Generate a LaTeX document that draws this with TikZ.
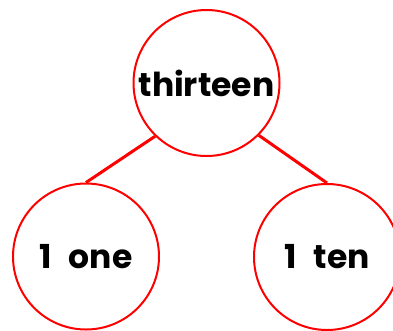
\documentclass[tikz,border=0pt]{standalone}
\usepackage{fontspec}
\setmainfont{Poppins}
\begin{document}
\begin{tikzpicture}[x=1pt,y=-1pt,
  circ/.style={circle,draw=red,line width=2pt,minimum size=146pt,inner sep=0pt,font=\fontsize{33}{38}\selectfont\bfseries},
  link/.style={draw=red,line width=3pt}]
\useasboundingbox (0,0) rectangle (393,330);
\node[circ] (top) at (206.5,83) {thirteen};
\node[circ] (one) at (86,256.5) {1\hspace{0.3em} one};
\node[circ] (ten) at (327,257) {1\hspace{0.3em} ten};
\draw[link] (top.226) -- (one.north);
\draw[link] (top.315) -- (ten.north);
\end{tikzpicture}
\end{document}
